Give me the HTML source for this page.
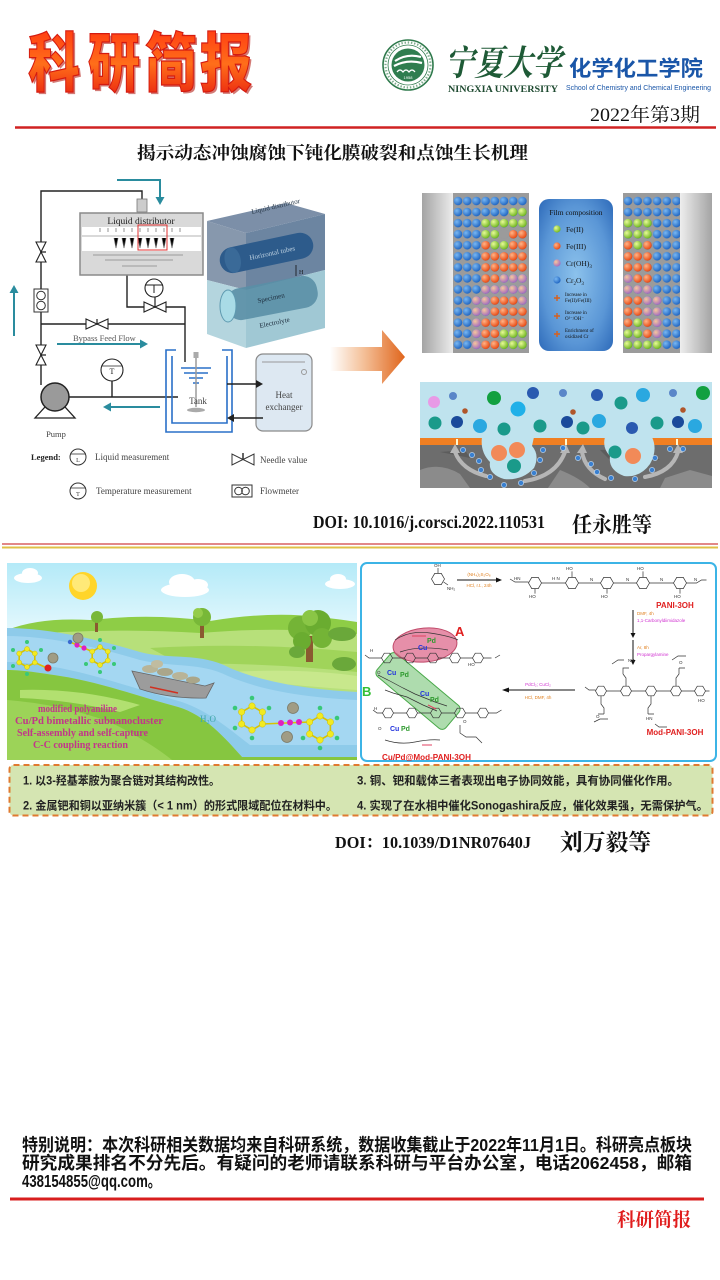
<!DOCTYPE html>
<html><head><meta charset="utf-8">
<style>
html,body{margin:0;padding:0;background:#fff;}
body{width:720px;height:1280px;overflow:hidden;position:relative;}
svg{position:absolute;left:0;top:0;}
.s{font-family:"Liberation Sans","Noto Sans CJK SC",sans-serif;}
.r{font-family:"Liberation Serif","Noto Serif CJK SC",serif;}
.k{font-family:"Noto Serif CJK SC","Liberation Serif",serif;}
</style></head><body>
<svg width="720" height="1280" viewBox="0 0 720 1280" xmlns="http://www.w3.org/2000/svg">
<defs>
<linearGradient id="rg" x1="0" y1="0" x2="0" y2="1"><stop offset="0" stop-color="#ff3c12"/><stop offset=".5" stop-color="#ff6e1a"/><stop offset="1" stop-color="#e8200f"/></linearGradient>
<linearGradient id="oa" x1="0" y1="0" x2="1" y2="0"><stop offset="0" stop-color="#fff"/><stop offset=".45" stop-color="#f4c098"/><stop offset="1" stop-color="#e0651c"/></linearGradient>
<linearGradient id="glL" x1="0" y1="0" x2="1" y2="0"><stop offset="0" stop-color="#a4a4a4"/><stop offset="1" stop-color="#eeeeee"/></linearGradient>
<linearGradient id="glR" x1="0" y1="0" x2="1" y2="0"><stop offset="0" stop-color="#eeeeee"/><stop offset="1" stop-color="#a4a4a4"/></linearGradient>
<radialGradient id="bb" cx=".5" cy=".5" r=".75"><stop offset="0" stop-color="#8cc2ec"/><stop offset=".6" stop-color="#5a96d6"/><stop offset="1" stop-color="#2562b4"/></radialGradient>
<radialGradient id="gB" cx=".35" cy=".35" r=".7"><stop offset="0" stop-color="#7ab8f2"/><stop offset="1" stop-color="#1c62c0"/></radialGradient>
<radialGradient id="gG" cx=".35" cy=".35" r=".7"><stop offset="0" stop-color="#e8fa98"/><stop offset="1" stop-color="#6cb41c"/></radialGradient>
<radialGradient id="gO" cx=".35" cy=".35" r=".7"><stop offset="0" stop-color="#ffb488"/><stop offset="1" stop-color="#e8460e"/></radialGradient>
<radialGradient id="gP" cx=".35" cy=".35" r=".7"><stop offset="0" stop-color="#f6c89c"/><stop offset="1" stop-color="#a068c0"/></radialGradient>
<linearGradient id="sky" x1="0" y1="0" x2="0" y2="1"><stop offset="0" stop-color="#b4eaf8"/><stop offset=".35" stop-color="#e4f8fd"/><stop offset="1" stop-color="#e4f8fd"/></linearGradient>
<pattern id="pL" x="453.4" y="195.5" width="9.2" height="11.05" patternUnits="userSpaceOnUse"><circle cx="4.6" cy="5.5" r="4.3" fill="url(#gB)"/></pattern>
<pattern id="pR" x="623.15" y="195.5" width="9.7" height="11.05" patternUnits="userSpaceOnUse"><circle cx="4.85" cy="5.5" r="4.3" fill="url(#gB)"/></pattern>
<circle id="dG" r="4.3" fill="url(#gG)"/>
<circle id="dO" r="4.3" fill="url(#gO)"/>
<circle id="dP" r="4.3" fill="url(#gP)"/>
<polygon id="hx" points="6.5,0 3.25,5.6 -3.25,5.6 -6.5,0 -3.25,-5.6 3.25,-5.6" fill="none" stroke="#333" stroke-width=".7"/>
<polygon id="hs" points="5.5,0 2.75,4.8 -2.75,4.8 -5.5,0 -2.75,-4.8 2.75,-4.8" fill="none" stroke="#333" stroke-width=".7"/>
</defs>

<!-- ===== HEADER ===== -->
<g class="s" font-size="64" font-weight="900">
<text x="30" y="88" fill="#b01008" opacity=".55" textLength="52" lengthAdjust="spacingAndGlyphs">科</text>
<text x="90" y="88" fill="#b01008" opacity=".55" textLength="52" lengthAdjust="spacingAndGlyphs">研</text>
<text x="147" y="88" fill="#b01008" opacity=".55" textLength="52" lengthAdjust="spacingAndGlyphs">简</text>
<text x="202" y="88" fill="#b01008" opacity=".55" textLength="52" lengthAdjust="spacingAndGlyphs">报</text>
<text x="28" y="86" fill="url(#rg)" stroke="#d41a10" stroke-width="1.2" textLength="52" lengthAdjust="spacingAndGlyphs">科</text>
<text x="88" y="86" fill="url(#rg)" stroke="#d41a10" stroke-width="1.2" textLength="52" lengthAdjust="spacingAndGlyphs">研</text>
<text x="145" y="86" fill="url(#rg)" stroke="#d41a10" stroke-width="1.2" textLength="52" lengthAdjust="spacingAndGlyphs">简</text>
<text x="200" y="86" fill="url(#rg)" stroke="#d41a10" stroke-width="1.2" textLength="52" lengthAdjust="spacingAndGlyphs">报</text>
</g>

<!-- logo -->
<circle cx="408" cy="65" r="25" fill="#fff" stroke="#2f7a4c" stroke-width="1.6"/>
<circle cx="408" cy="65" r="22.5" fill="none" stroke="#4a8a60" stroke-width="2.2" stroke-dasharray="1.4 1.8" opacity=".7"/>
<circle cx="408" cy="65" r="20" fill="none" stroke="#2f7a4c" stroke-width=".8"/>
<circle cx="408" cy="65" r="16.5" fill="#2f7d4f"/>
<path d="M395,61 Q407,53 421,57 M394,66 Q407,59 422,63" stroke="#fff" stroke-width="2.2" fill="none"/>
<path d="M397,72 q3,-4 6,0 q3,-4 6,0 q3,-4 6,0" stroke="#fff" stroke-width="1.2" fill="none"/>
<text x="408" y="79" font-size="4" fill="#fff" text-anchor="middle" class="s">1958</text>

<text x="445" y="75" class="k" font-size="35" font-weight="bold" fill="#1e5a36" textLength="117" lengthAdjust="spacingAndGlyphs" font-style="italic">宁夏大学</text>
<text x="448" y="92" class="r" font-size="9.5" font-weight="bold" fill="#1e4a30" textLength="110" lengthAdjust="spacingAndGlyphs">NINGXIA UNIVERSITY</text>
<text x="569" y="76" class="s" font-size="21.5" font-weight="bold" fill="#1a56a8" textLength="134" lengthAdjust="spacingAndGlyphs">化学化工学院</text>
<text x="566" y="90" class="s" font-size="7" fill="#1a56a8" textLength="145" lengthAdjust="spacingAndGlyphs">School of Chemistry and Chemical Engineering</text>
<text x="590" y="121" class="r" font-size="19" fill="#111" textLength="110" lengthAdjust="spacingAndGlyphs">2022年第3期</text>
<line x1="15" y1="127.5" x2="716" y2="127.5" stroke="#d02222" stroke-width="2.5"/>

<text x="137" y="159" class="k" font-size="17.5" font-weight="bold" fill="#111" textLength="391" lengthAdjust="spacingAndGlyphs">揭示动态冲蚀腐蚀下钝化膜破裂和点蚀生长机理</text>

<!-- ===== LEFT PROCESS DIAGRAM ===== -->
<!-- teal arrows -->
<g stroke="#2a8c9e" stroke-width="2" fill="none">
<path d="M117,180 H160 V198"/>
<path d="M14,336 V292"/>
<path d="M57,344 H141"/>
<path d="M160,407 H110"/>
</g>
<g fill="#2a8c9e">
<polygon points="155.5,197 164.5,197 160,205"/>
<polygon points="9.5,293 18.5,293 14,285"/>
<polygon points="140,339.5 140,348.5 148,344"/>
<polygon points="111,402.5 111,411.5 103,407"/>
</g>
<!-- pipes -->
<g stroke="#222" stroke-width="1.4" fill="none">
<path d="M41,385 V191 H142 V199"/>
<path d="M41,324 H185"/>
<path d="M127,275 V307 H185 V362"/>
<path d="M69,397 H178"/>
<path d="M112,381 V397"/>
</g>
<rect x="137" y="199" width="10" height="13" fill="#ccc" stroke="#777" stroke-width=".8"/>
<!-- distributor -->
<rect x="80" y="213" width="123" height="62" fill="#d9d9d9" stroke="#8a8a8a" stroke-width="1.5"/>
<text x="141" y="224" class="r" font-size="9.5" fill="#222" text-anchor="middle">Liquid distributor</text>
<rect x="82" y="227" width="119" height="8" fill="#fff"/>
<rect x="82" y="237" width="119" height="14" fill="#fff"/>
<g stroke="#666" stroke-width=".7">
<path d="M100,228 v4 M108,228 v4 M116,228 v4 M124,228 v4 M132,228 v4 M140,228 v4 M148,228 v4 M156,228 v4 M164,228 v4 M172,228 v4 M180,228 v4"/>
<path d="M114,238 l2,10 l2,-10 M122,238 l2,10 l2,-10 M130,238 l2,10 l2,-10 M138,238 l2,10 l2,-10 M146,238 l2,10 l2,-10 M154,238 l2,10 l2,-10 M162,238 l2,10 l2,-10 M170,238 l2,10 l2,-10"/>
<path d="M93,255 H183 M105,260 H173 M122,266 H157" stroke="#888"/>
</g>
<rect x="138" y="225" width="29" height="25" fill="none" stroke="#e03030" stroke-width="1"/>
<!-- valves -->
<g fill="#fff" stroke="#222" stroke-width="1.1">
<polygon points="36,242 46,242 41,252"/><polygon points="36,262 46,262 41,252"/>
<polygon points="36,345 46,345 41,355"/><polygon points="36,365 46,365 41,355"/>
<polygon points="86,319 86,329 97,324"/><polygon points="108,319 108,329 97,324"/>
<polygon points="144,302 144,312 155,307"/><polygon points="166,302 166,312 155,307"/>
</g>
<g stroke="#222" stroke-width="1.2"><path d="M41,252 h5 M41,355 h5 M97,324 v-5 M155,307 v-10"/></g>
<!-- gauge above valve -->
<circle cx="154" cy="288" r="9" fill="#fff" stroke="#222" stroke-width="1.1"/>
<path d="M145.5,285 H162.5 M154,285 V293" stroke="#222" stroke-width="1"/>
<!-- flowmeter -->
<rect x="34" y="289" width="14" height="23" fill="#fff" stroke="#333" stroke-width="1"/>
<circle cx="41" cy="295.5" r="4.3" fill="none" stroke="#333" stroke-width="1"/>
<circle cx="41" cy="305.5" r="4.3" fill="none" stroke="#333" stroke-width="1"/>
<text x="73" y="341" class="r" font-size="8.5" fill="#555">Bypass Feed Flow</text>
<!-- temperature gauge -->
<circle cx="112" cy="370" r="11" fill="#fff" stroke="#222" stroke-width="1.1"/>
<text x="112" y="374" class="r" font-size="8" text-anchor="middle" fill="#222">T</text>
<path d="M102,366 H122" stroke="#222" stroke-width=".8"/>
<!-- pump -->
<polygon points="55,396 35,418 75,418" fill="#fff" stroke="#222" stroke-width="1.3"/>
<circle cx="55" cy="397" r="14" fill="#9a9a9a" stroke="#222" stroke-width="1.5"/>
<text x="56" y="437" class="r" font-size="8.5" fill="#444" text-anchor="middle">Pump</text>
<!-- tank -->
<g stroke="#2a70c8" stroke-width="1.6" fill="none">
<path d="M176,350 H166 V432 H232 V350 H222"/>
<path d="M172,356 V423 H227 V356"/>
<path d="M181,368 H211 M184,373 H208 M189,378 H203 M193,383 H199"/>
</g>
<path d="M196,354 V407" stroke="#9a9a9a" stroke-width="1.5"/>
<rect x="193.5" y="352" width="5" height="6" fill="#aaa"/>
<ellipse cx="196" cy="410" rx="9" ry="2.2" fill="#aaa"/>
<text x="198" y="404" class="r" font-size="9" fill="#444" text-anchor="middle">Tank</text>
<!-- heat exchanger -->
<rect x="256" y="354" width="56" height="77" rx="7" fill="#dde8f2" stroke="#8a8a8a" stroke-width="1.2"/>
<path d="M262,362 H305" stroke="#999" stroke-width="1"/>
<circle cx="304" cy="372" r="2.5" fill="none" stroke="#999"/>
<text x="284" y="398" class="r" font-size="9" fill="#444" text-anchor="middle">Heat</text>
<text x="284" y="410" class="r" font-size="9" fill="#444" text-anchor="middle">exchanger</text>
<path d="M227,384 H257 M263,418 H233" stroke="#222" stroke-width="1.4"/>
<polygon points="256,380 256,388 263,384" fill="#222"/>
<polygon points="234,414 234,422 227,418" fill="#222"/>
<!-- 3D block -->
<polygon points="207,221 286,203 325,214 246,233" fill="#7c8fa8"/>
<polygon points="207,221 246,233 246,290 207,280" fill="#8798ad"/>
<polygon points="207,280 246,290 246,348 207,334" fill="#b4d5de"/>
<polygon points="246,233 325,214 325,270 246,290" fill="#6c85a1"/>
<polygon points="246,290 325,270 325,328 246,348" fill="#a0c8d4"/>
<g transform="rotate(-12 266 253)"><rect x="219" y="240" width="95" height="26" rx="13" fill="#2d5b8b"/><ellipse cx="232" cy="253" rx="8" ry="13" fill="#3a6a98"/></g>
<g transform="rotate(-11 272 298)"><rect x="226" y="282" width="92" height="32" rx="14" fill="#5a8fa6" opacity=".9"/></g>
<ellipse cx="228" cy="306" rx="8" ry="16" fill="#a9dbe6" stroke="#5f9ab0" stroke-width="1"/>
<text x="252" y="214" class="r" font-size="7" fill="#2a3a4a" transform="rotate(-13 252 214)">Liquid distributor</text>
<text x="250" y="260" class="r" font-size="7" fill="#bcd0e0" transform="rotate(-12 250 260)">Horizontal tubes</text>
<text x="258" y="303" class="r" font-size="7" fill="#1e2e3e" transform="rotate(-12 258 303)">Specimen</text>
<text x="260" y="328" class="r" font-size="7" fill="#1e2e3e" transform="rotate(-12 260 328)">Electrolyte</text>
<path d="M296,265 V276" stroke="#111" stroke-width=".8"/>
<text x="299" y="274" class="r" font-size="6" fill="#111">H</text>
<!-- legend -->
<text x="31" y="460" class="r" font-size="8.5" font-weight="bold" fill="#222">Legend:</text>
<circle cx="78" cy="457" r="8" fill="#fff" stroke="#333" stroke-width="1"/>
<path d="M70,454 H86" stroke="#333" stroke-width=".8"/>
<text x="78" y="462" class="r" font-size="6" text-anchor="middle" fill="#333">L</text>
<text x="95" y="460" class="r" font-size="9" fill="#444">Liquid measurement</text>
<polygon points="232,454 232,465 243,459.5" fill="#fff" stroke="#333"/>
<polygon points="254,454 254,465 243,459.5" fill="#fff" stroke="#333"/>
<path d="M243,459.5 V453" stroke="#333" stroke-width="1.5"/>
<text x="260" y="463" class="r" font-size="9" fill="#444">Needle value</text>
<circle cx="78" cy="491" r="8" fill="#fff" stroke="#333" stroke-width="1"/>
<path d="M70,488 H86" stroke="#333" stroke-width=".8"/>
<text x="78" y="496" class="r" font-size="6" text-anchor="middle" fill="#333">T</text>
<text x="96" y="494" class="r" font-size="9" fill="#444">Temperature measurement</text>
<rect x="232" y="485" width="20" height="12" fill="#fff" stroke="#333"/>
<circle cx="238.5" cy="491" r="3.8" fill="none" stroke="#333"/>
<circle cx="245.5" cy="491" r="3.8" fill="none" stroke="#333"/>
<text x="260" y="494" class="r" font-size="9" fill="#444">Flowmeter</text>

<!-- orange arrow -->
<polygon points="330,347 382,347 382,330 405,357 382,384 382,371 330,371" fill="url(#oa)"/>

<!-- ===== FILM COMPOSITION PANEL ===== -->
<rect x="422" y="193" width="32" height="160" fill="url(#glL)"/>
<rect x="453" y="193" width="76" height="160" fill="#9b9b9b"/>
<rect x="453.4" y="195.5" width="73.6" height="154.7" fill="url(#pL)"/>
<rect x="623" y="193" width="58" height="160" fill="#9b9b9b"/>
<rect x="623.15" y="195.5" width="58.2" height="154.7" fill="url(#pR)"/>
<rect x="680" y="193" width="32" height="160" fill="url(#glR)"/>
<!-- left overlays -->
<use href="#dG" x="513.2" y="212"/><use href="#dG" x="522.4" y="212"/>
<use href="#dG" x="485.6" y="223.1"/><use href="#dG" x="494.8" y="223.1"/><use href="#dG" x="504" y="223.1"/><use href="#dG" x="513.2" y="223.1"/><use href="#dG" x="522.4" y="223.1"/>
<use href="#dG" x="485.6" y="234.2"/><use href="#dG" x="494.8" y="234.2"/><circle cx="504" cy="234.2" r="4.7" fill="#9b9b9b"/><use href="#dO" x="513.2" y="234.2"/><use href="#dO" x="522.4" y="234.2"/>
<use href="#dO" x="485.6" y="245.2"/><use href="#dG" x="494.8" y="245.2"/><use href="#dG" x="504" y="245.2"/><use href="#dO" x="513.2" y="245.2"/><use href="#dO" x="522.4" y="245.2"/>
<use href="#dO" x="485.6" y="256.3"/><use href="#dO" x="494.8" y="256.3"/><use href="#dO" x="504" y="256.3"/><use href="#dO" x="513.2" y="256.3"/><use href="#dO" x="522.4" y="256.3"/>
<use href="#dO" x="485.6" y="267.3"/><use href="#dO" x="494.8" y="267.3"/><use href="#dO" x="504" y="267.3"/><use href="#dO" x="513.2" y="267.3"/><use href="#dO" x="522.4" y="267.3"/>
<use href="#dO" x="485.6" y="278.4"/><use href="#dO" x="494.8" y="278.4"/><use href="#dP" x="504" y="278.4"/><use href="#dP" x="513.2" y="278.4"/><use href="#dP" x="522.4" y="278.4"/>
<use href="#dP" x="485.6" y="289.4"/><use href="#dP" x="494.8" y="289.4"/><use href="#dP" x="504" y="289.4"/><use href="#dP" x="513.2" y="289.4"/><use href="#dP" x="522.4" y="289.4"/>
<use href="#dP" x="476.4" y="300.5"/><use href="#dP" x="485.6" y="300.5"/><use href="#dO" x="494.8" y="300.5"/><use href="#dO" x="504" y="300.5"/><use href="#dO" x="513.2" y="300.5"/><use href="#dP" x="522.4" y="300.5"/>
<use href="#dP" x="476.4" y="311.5"/><use href="#dP" x="485.6" y="311.5"/><use href="#dO" x="494.8" y="311.5"/><use href="#dO" x="504" y="311.5"/><use href="#dO" x="513.2" y="311.5"/><use href="#dO" x="522.4" y="311.5"/>
<use href="#dP" x="476.4" y="322.6"/><use href="#dO" x="485.6" y="322.6"/><use href="#dO" x="494.8" y="322.6"/><use href="#dO" x="504" y="322.6"/><use href="#dO" x="513.2" y="322.6"/><use href="#dO" x="522.4" y="322.6"/>
<use href="#dP" x="476.4" y="333.6"/><use href="#dO" x="485.6" y="333.6"/><use href="#dO" x="494.8" y="333.6"/><use href="#dG" x="504" y="333.6"/><use href="#dG" x="513.2" y="333.6"/><use href="#dG" x="522.4" y="333.6"/>
<use href="#dP" x="476.4" y="344.7"/><use href="#dO" x="485.6" y="344.7"/><use href="#dO" x="494.8" y="344.7"/><use href="#dG" x="504" y="344.7"/><use href="#dG" x="513.2" y="344.7"/><use href="#dG" x="522.4" y="344.7"/>
<!-- right overlays -->
<use href="#dG" x="628" y="223.1"/><use href="#dG" x="637.7" y="223.1"/><use href="#dG" x="647.4" y="223.1"/>
<use href="#dG" x="628" y="234.2"/><use href="#dG" x="637.7" y="234.2"/><use href="#dG" x="647.4" y="234.2"/>
<use href="#dO" x="628" y="245.2"/><use href="#dG" x="637.7" y="245.2"/><use href="#dO" x="647.4" y="245.2"/>
<use href="#dO" x="628" y="256.3"/><use href="#dO" x="637.7" y="256.3"/><use href="#dO" x="647.4" y="256.3"/>
<use href="#dO" x="628" y="267.3"/><use href="#dO" x="637.7" y="267.3"/><use href="#dO" x="647.4" y="267.3"/>
<use href="#dP" x="628" y="278.4"/><use href="#dO" x="637.7" y="278.4"/><use href="#dO" x="647.4" y="278.4"/>
<use href="#dP" x="628" y="289.4"/><use href="#dP" x="637.7" y="289.4"/><use href="#dP" x="647.4" y="289.4"/>
<use href="#dO" x="628" y="300.5"/><use href="#dO" x="637.7" y="300.5"/><use href="#dP" x="647.4" y="300.5"/><use href="#dP" x="657.1" y="300.5"/>
<use href="#dO" x="628" y="311.5"/><use href="#dO" x="637.7" y="311.5"/><use href="#dP" x="647.4" y="311.5"/><use href="#dP" x="657.1" y="311.5"/>
<use href="#dO" x="628" y="322.6"/><use href="#dG" x="637.7" y="322.6"/><use href="#dO" x="647.4" y="322.6"/><use href="#dP" x="657.1" y="322.6"/>
<use href="#dG" x="628" y="333.6"/><use href="#dG" x="637.7" y="333.6"/><use href="#dO" x="647.4" y="333.6"/><use href="#dP" x="657.1" y="333.6"/>
<use href="#dG" x="628" y="344.7"/><use href="#dG" x="637.7" y="344.7"/><use href="#dG" x="647.4" y="344.7"/><use href="#dG" x="657.1" y="344.7"/>
<!-- legend box -->
<rect x="539" y="199" width="74" height="152" rx="10" fill="url(#bb)"/>
<text x="576" y="215" class="r" font-size="7.5" fill="#111" text-anchor="middle">Film composition</text>
<circle cx="557" cy="229" r="3.6" fill="url(#gG)"/><text x="566" y="232" class="r" font-size="7.5" fill="#111">Fe(II)</text>
<circle cx="557" cy="246" r="3.6" fill="url(#gO)"/><text x="566" y="249" class="r" font-size="7.5" fill="#111">Fe(III)</text>
<circle cx="557" cy="263" r="3.6" fill="url(#gP)"/><text x="566" y="266" class="r" font-size="7.5" fill="#111">Cr(OH)<tspan font-size="5" dy="2">3</tspan></text>
<circle cx="557" cy="280" r="3.6" fill="url(#gB)"/><text x="566" y="283" class="r" font-size="7.5" fill="#111">Cr<tspan font-size="5" dy="2">2</tspan><tspan dy="-2">O</tspan><tspan font-size="5" dy="2">3</tspan></text>
<path d="M554,298 h6 M557,295 v6 M554,316 h6 M557,313 v6 M554,334 h6 M557,331 v6" stroke="#d8601c" stroke-width="1.4"/>
<g class="r" font-size="5" fill="#111">
<text x="565" y="296">Increase in</text><text x="565" y="302">Fe(II)/Fe(III)</text>
<text x="565" y="314">Increase in</text><text x="565" y="320">O²⁻/OH⁻</text>
<text x="565" y="332">Enrichment of</text><text x="565" y="338">oxidized Cr</text>
</g>

<!-- ===== CORROSION PANEL ===== -->
<rect x="420" y="382" width="292" height="56" fill="#bfe3ee"/>
<rect x="420" y="444" width="292" height="44" fill="#6d6d6d"/>
<path d="M420,470 Q440,462 460,474 L470,488 H420Z M560,470 Q580,478 590,488 H548Z M665,478 L690,470 L712,476 V488 H660Z" fill="#8b8b8b"/>
<path d="M600,450 L640,448 L660,460 L612,462Z M440,452 L465,450 L470,458Z" fill="#5c5c5c"/>
<rect x="420" y="438" width="292" height="7" fill="#f07f22"/>
<path d="M482,437 L534,437 L532,446 Q540,455 534,468 Q522,481 504,479 Q488,474 490,462 Q480,452 482,437Z" fill="#bfe3ee"/>
<path d="M605,437 L652,437 Q658,450 650,464 Q640,478 624,476 Q608,470 610,456 Q602,448 605,437Z" fill="#bfe3ee"/>
<g fill="none" stroke="#b6b6b6" stroke-width="4" stroke-linecap="round">
<path d="M486,476 Q462,470 455,452"/><path d="M525,481 Q556,476 565,452"/>
<path d="M605,479 Q585,470 582,452"/><path d="M645,477 Q672,472 678,452"/>
</g>
<g fill="#b6b6b6"><polygon points="450,453 460,453 455,444"/><polygon points="560,453 570,453 566,444"/><polygon points="577,453 587,453 583,444"/><polygon points="673,453 683,453 678,444"/></g>
<g fill="#fff8d0"><rect x="456" y="439" width="2" height="6"/><rect x="565" y="439" width="2" height="6"/><rect x="676" y="439" width="2" height="6"/></g>
<g>
<circle cx="434" cy="402" r="6" fill="#e89ae6"/>
<circle cx="453" cy="396" r="4" fill="#5a86c8"/><circle cx="465" cy="411" r="2.8" fill="#b0562a"/>
<circle cx="435" cy="423" r="6.5" fill="#1a9a8a"/><circle cx="457" cy="422" r="6" fill="#1a4a9a"/>
<circle cx="480" cy="426" r="7" fill="#2aa8e0"/><circle cx="494" cy="398" r="7" fill="#12a040"/>
<circle cx="504" cy="429" r="6.5" fill="#1a9a8a"/><circle cx="518" cy="409" r="7.5" fill="#20b0e8"/>
<circle cx="533" cy="393" r="6" fill="#2a5ab0"/><circle cx="540" cy="426" r="6.5" fill="#1a9a8a"/>
<circle cx="563" cy="393" r="4" fill="#5a86c8"/><circle cx="573" cy="412" r="2.8" fill="#b0562a"/>
<circle cx="567" cy="422" r="6" fill="#1a4a9a"/><circle cx="583" cy="428" r="6.5" fill="#1a9a8a"/>
<circle cx="597" cy="395" r="6" fill="#2a5ab0"/><circle cx="599" cy="421" r="7" fill="#2aa8e0"/>
<circle cx="621" cy="403" r="6.5" fill="#1a9a8a"/><circle cx="643" cy="395" r="7" fill="#2aa8e0"/>
<circle cx="632" cy="428" r="6" fill="#2a5ab0"/><circle cx="657" cy="423" r="6.5" fill="#1a9a8a"/>
<circle cx="673" cy="393" r="4" fill="#5a86c8"/><circle cx="683" cy="410" r="2.8" fill="#b0562a"/>
<circle cx="678" cy="422" r="6" fill="#1a4a9a"/><circle cx="695" cy="426" r="7" fill="#2aa8e0"/>
<circle cx="703" cy="393" r="7" fill="#12a040"/>
<circle cx="499" cy="453" r="8" fill="#f28a58"/><circle cx="517" cy="450" r="8" fill="#f28a58"/>
<circle cx="514" cy="466" r="7" fill="#1a9a8a"/>
<circle cx="615" cy="452" r="6.5" fill="#1a9a8a"/><circle cx="633" cy="456" r="8" fill="#f28a58"/>
</g>
<g fill="#3a80d0" stroke="#cfe4f8" stroke-width=".6">
<circle cx="463" cy="450" r="2.6"/><circle cx="472" cy="455" r="2.6"/><circle cx="479" cy="461" r="2.6"/><circle cx="481" cy="470" r="2.6"/>
<circle cx="490" cy="477" r="2.6"/><circle cx="504" cy="485" r="2.6"/><circle cx="521" cy="483" r="2.6"/><circle cx="534" cy="473" r="2.6"/>
<circle cx="540" cy="460" r="2.6"/><circle cx="543" cy="450" r="2.6"/><circle cx="563" cy="448" r="2.6"/><circle cx="578" cy="458" r="2.6"/>
<circle cx="591" cy="464" r="2.6"/><circle cx="597" cy="472" r="2.6"/><circle cx="611" cy="478" r="2.6"/><circle cx="635" cy="479" r="2.6"/>
<circle cx="652" cy="470" r="2.6"/><circle cx="655" cy="458" r="2.6"/><circle cx="670" cy="449" r="2.6"/><circle cx="683" cy="449" r="2.6"/>
</g>

<!-- DOI 1 -->
<text x="313" y="528" class="r" font-size="18" font-weight="bold" fill="#111" textLength="232" lengthAdjust="spacingAndGlyphs">DOI:  10.1016/j.corsci.2022.110531</text>
<text x="572" y="532" class="k" font-size="21" font-weight="bold" fill="#111" textLength="80" lengthAdjust="spacingAndGlyphs">任永胜等</text>

<!-- separator -->
<line x1="2" y1="544" x2="718" y2="544" stroke="#d86060" stroke-width="1.5"/>
<line x1="2" y1="547.5" x2="718" y2="547.5" stroke="#e0c048" stroke-width="2"/>

<!-- ===== SCENE ===== -->
<rect x="7" y="563" width="350" height="197" fill="url(#sky)"/>
<g fill="#fff">
<ellipse cx="28" cy="578" rx="14" ry="5"/><ellipse cx="30" cy="573" rx="8" ry="5"/>
<ellipse cx="185" cy="590" rx="24" ry="7"/><ellipse cx="182" cy="582" rx="13" ry="8"/><ellipse cx="198" cy="585" rx="10" ry="6"/>
<ellipse cx="340" cy="584" rx="15" ry="5"/><ellipse cx="338" cy="579" rx="8" ry="5"/>
</g>
<circle cx="83" cy="586" r="14" fill="#ffd52a"/><circle cx="81" cy="583" r="9" fill="#ffe978"/>
<path d="M7,630 Q40,617 90,620 Q150,613 210,621 Q270,611 320,617 Q345,620 357,622 V760 H7Z" fill="#8ecd46"/>
<path d="M7,636 Q100,627 200,633 Q280,626 357,634 V760 H7Z" fill="#b7e07a"/>
<path d="M150,648 Q250,642 357,652 V672 Q260,662 180,664Z" fill="#a0d45a"/>
<path d="M230,672 Q300,668 357,676 V690 Q300,686 240,680Z" fill="#c8e88c"/>
<path d="M7,628 C50,628 100,640 140,652 C170,660 200,652 230,668 C270,685 320,690 357,692 V757 H242 C225,738 205,715 178,707 C140,697 100,682 60,676 C35,672 20,670 7,670 Z" fill="#8ecbea"/>
<path d="M7,636 C50,636 100,648 140,660 C175,668 200,662 228,676 C270,694 320,698 357,700 V745 H250 C228,728 205,708 175,700 C140,690 100,676 60,668 C35,664 20,662 7,662 Z" fill="#a4d7f2"/>
<path d="M7,670 C20,670 35,672 60,676 C100,682 140,697 178,707 C205,715 225,738 242,757 H357 V760 H7 Z" fill="#86c640"/>
<path d="M7,700 Q60,704 110,722 Q150,742 172,760 H7Z" fill="#9cd358"/>
<path d="M20,690 Q80,688 140,705 L120,712 Q70,700 20,698Z" fill="#b2e070"/>
<!-- trees -->
<rect x="95" y="620" width="3" height="12" fill="#8a5a30"/><circle cx="97" cy="617" r="6" fill="#79b838"/>
<rect x="200" y="622" width="4" height="16" fill="#8a5a30"/><circle cx="202" cy="617" r="9" fill="#78b838"/><circle cx="198" cy="613" r="5" fill="#94cc4a"/>
<rect x="306" y="636" width="7" height="26" fill="#8a5a30"/>
<circle cx="300" cy="628" r="12" fill="#74b436"/><circle cx="318" cy="623" r="13" fill="#6aac30"/><circle cx="322" cy="638" r="10" fill="#74b436"/><circle cx="302" cy="641" r="9" fill="#6aac30"/><circle cx="310" cy="618" r="8" fill="#8ac646"/>
<ellipse cx="342" cy="634" rx="14" ry="7" fill="#6aa83a"/><ellipse cx="344" cy="664" rx="12" ry="7" fill="#6aa83a"/><ellipse cx="297" cy="652" rx="8" ry="6" fill="#6aa83a"/>
<!-- boat -->
<path d="M132,671 L205,686 L214,683 L206,698 Q170,699 140,689 Z" fill="#9c9c9c" stroke="#666" stroke-width=".8"/>
<ellipse cx="150" cy="669" rx="8" ry="4" fill="#b8b498"/><ellipse cx="165" cy="672" rx="8" ry="4" fill="#aaa68a"/><ellipse cx="180" cy="676" rx="8" ry="4" fill="#b8b498"/><ellipse cx="157" cy="664" rx="6" ry="4" fill="#c0bca0"/><ellipse cx="193" cy="680" rx="7" ry="3.5" fill="#aaa68a"/>
<path d="M150,687 L178,693" stroke="#d03020" stroke-width="1.5"/>
<!-- molecules -->
<g stroke="#d8c400" stroke-width="1.6" fill="none">
<polygon points="27,649 34.8,653.5 34.8,662.5 27,667 19.2,662.5 19.2,653.5"/>
<polygon points="100,647 107.8,651.5 107.8,660.5 100,665 92.2,660.5 92.2,651.5"/>
<polygon points="252,706 262.4,712 262.4,724 252,730 241.6,724 241.6,712"/>
<polygon points="320,716 330.4,722 330.4,734 320,740 309.6,734 309.6,722"/>
<path d="M34.8,662.5 L47,668 M92.2,651.5 L70,642 M262.4,724 L309.6,722"/>
</g>
<g fill="#f2ea20" stroke="#c0b000" stroke-width=".4">
<circle cx="27" cy="649" r="2.5"/><circle cx="34.8" cy="653.5" r="2.5"/><circle cx="34.8" cy="662.5" r="2.5"/><circle cx="27" cy="667" r="2.5"/><circle cx="19.2" cy="662.5" r="2.5"/><circle cx="19.2" cy="653.5" r="2.5"/>
<circle cx="100" cy="647" r="2.5"/><circle cx="107.8" cy="651.5" r="2.5"/><circle cx="107.8" cy="660.5" r="2.5"/><circle cx="100" cy="665" r="2.5"/><circle cx="92.2" cy="660.5" r="2.5"/><circle cx="92.2" cy="651.5" r="2.5"/>
<circle cx="252" cy="706" r="3.2"/><circle cx="262.4" cy="712" r="3.2"/><circle cx="262.4" cy="724" r="3.2"/><circle cx="252" cy="730" r="3.2"/><circle cx="241.6" cy="724" r="3.2"/><circle cx="241.6" cy="712" r="3.2"/>
<circle cx="320" cy="716" r="3.2"/><circle cx="330.4" cy="722" r="3.2"/><circle cx="330.4" cy="734" r="3.2"/><circle cx="320" cy="740" r="3.2"/><circle cx="309.6" cy="734" r="3.2"/><circle cx="309.6" cy="722" r="3.2"/>
</g>
<g fill="#38c878">
<circle cx="27" cy="642" r="2"/><circle cx="41" cy="650" r="2"/><circle cx="27" cy="674" r="2"/><circle cx="13" cy="666" r="2"/><circle cx="13" cy="650" r="2"/>
<circle cx="100" cy="640" r="2"/><circle cx="114" cy="648" r="2"/><circle cx="114" cy="664" r="2"/><circle cx="100" cy="672" r="2"/><circle cx="86" cy="664" r="2"/>
<circle cx="252" cy="698" r="2.3"/><circle cx="269" cy="708" r="2.3"/><circle cx="252" cy="738" r="2.3"/><circle cx="235" cy="728" r="2.3"/><circle cx="235" cy="708" r="2.3"/>
<circle cx="320" cy="708" r="2.3"/><circle cx="337" cy="718" r="2.3"/><circle cx="337" cy="738" r="2.3"/><circle cx="320" cy="748" r="2.3"/><circle cx="303" cy="738" r="2.3"/>
</g>
<circle cx="48" cy="668" r="3.5" fill="#e02020"/>
<g fill="#e020c0"><circle cx="84" cy="648" r="2.6"/><circle cx="77" cy="645" r="2.6"/><circle cx="281" cy="723" r="3"/><circle cx="290" cy="722.5" r="3"/><circle cx="299" cy="722" r="3"/></g>
<circle cx="70" cy="642" r="2.2" fill="#3a6ad0"/>
<g fill="#a09c84" stroke="#7c7a66" stroke-width=".8"><circle cx="53" cy="658" r="5"/><circle cx="78" cy="638" r="5"/><circle cx="293" cy="708" r="5.5"/><circle cx="287" cy="737" r="5.5"/></g>
<text x="200" y="722" class="r" font-size="9" fill="#40a8a8">H<tspan font-size="6" dy="2">2</tspan><tspan dy="-2">O</tspan></text>
<g class="r" font-weight="bold" fill="#c2368a" font-size="10">
<text x="38" y="712" textLength="79" lengthAdjust="spacingAndGlyphs">modified polyaniline</text>
<text x="15" y="724" textLength="148" lengthAdjust="spacingAndGlyphs">Cu/Pd bimetallic subnanocluster</text>
<text x="17" y="736" textLength="131" lengthAdjust="spacingAndGlyphs">Self-assembly and self-capture</text>
<text x="33" y="748" textLength="95" lengthAdjust="spacingAndGlyphs">C-C coupling reaction</text>
</g>

<!-- ===== CHEMISTRY BOX ===== -->
<rect x="361" y="563" width="355" height="198" rx="6" fill="#fff" stroke="#3cb4e6" stroke-width="2"/>
<!-- reagent -->
<use href="#hx" x="438" y="579"/>
<path d="M438,573.4 V568 M443.6,582 L448,585" stroke="#333" stroke-width=".7"/>
<text x="434" y="567" class="s" font-size="4.5" fill="#333">OH</text>
<text x="447" y="590" class="s" font-size="4.5" fill="#333">NH₂</text>
<path d="M457,580 H497" stroke="#111" stroke-width="1"/><polygon points="496,577.5 496,582.5 502,580" fill="#111"/>
<text x="479" y="576" class="s" font-size="4.5" fill="#e08020" text-anchor="middle">(NH₄)₂S₂O₈</text>
<text x="479" y="587" class="s" font-size="4.5" fill="#e08020" text-anchor="middle">HCl, r.t., 24h</text>
<!-- PANI chain -->
<use href="#hx" x="535" y="583"/><use href="#hx" x="572" y="583"/><use href="#hx" x="607" y="583"/><use href="#hx" x="643" y="583"/><use href="#hx" x="680" y="583"/>
<path d="M510,579 l5,3 h13.5 M541.5,583 h24 M578.5,583 h22 M613.5,583 h23 M649.5,583 h24 M686.5,583 h10 l5,-3 h5 M572,577.4 v-6 M643,577.4 v-6 M535,588.6 v5 M607,588.6 v5 M680,588.6 v5" stroke="#333" stroke-width=".7" fill="none"/>
<g class="s" font-size="4.5" fill="#333">
<text x="514" y="580">HN</text><text x="552" y="580">H N</text><text x="590" y="581">N</text><text x="626" y="581">N</text><text x="660" y="581">N</text><text x="694" y="581">N</text>
<text x="566" y="570">HO</text><text x="637" y="570">HO</text><text x="529" y="598">HO</text><text x="601" y="598">HO</text><text x="674" y="598">HO</text>
</g>
<text x="675" y="608" class="s" font-size="8" font-weight="bold" fill="#e02020" text-anchor="middle">PANI-3OH</text>
<!-- vertical arrows -->
<path d="M633,610 V634 M633,640 V660" stroke="#111" stroke-width="1"/>
<polygon points="630.5,633 635.5,633 633,638" fill="#111"/><polygon points="630.5,660 635.5,660 633,665" fill="#111"/>
<g class="s" font-size="4.5">
<text x="637" y="615" fill="#e08020">DMF, 4h</text><text x="637" y="622" fill="#d030d0">1,1-Carbonyldiimidazole</text>
<text x="637" y="649" fill="#e08020">Ar, 8h</text><text x="637" y="656" fill="#d030d0">Propargylamine</text>
</g>
<!-- Mod-PANI -->
<use href="#hs" x="601" y="691"/><use href="#hs" x="626" y="691"/><use href="#hs" x="651" y="691"/><use href="#hs" x="676" y="691"/><use href="#hs" x="700" y="691"/>
<path d="M585,687 l4,3 h6.5 M606.5,691 h14 M631.5,691 h14 M656.5,691 h14 M681.5,691 h13 M705.5,691 h4 M626,686 v-8 l-3,-4 M623,674 v-6 h6 M612,664 l6,-4 h6 M676,686 v-8 l3,-4 v-6 M679,668 h6 M672,660 l6,-4 h8 M601,696 v8 l3,4 v6 M604,714 h-6 M594,722 l6,-3 h8 M651,696 v8 l-3,4 v6 M648,714 h6 M655,724 l4,3 h8" stroke="#333" stroke-width=".7" fill="none"/>
<g class="s" font-size="4.5" fill="#333"><text x="628" y="662">NH</text><text x="679" y="664">O</text><text x="596" y="718">O</text><text x="646" y="720">HN</text><text x="698" y="702">HO</text></g>
<text x="675" y="735" class="s" font-size="8" font-weight="bold" fill="#e02020" text-anchor="middle">Mod-PANI-3OH</text>
<!-- left arrow -->
<path d="M575,690 H508" stroke="#111" stroke-width="1"/><polygon points="509,687.5 509,692.5 502,690" fill="#111"/>
<text x="538" y="686" class="s" font-size="4.5" fill="#d030d0" text-anchor="middle">PdCl₂; CuCl₂</text>
<text x="538" y="699" class="s" font-size="4.5" fill="#e08020" text-anchor="middle">HCl, DMF, 4h</text>
<!-- product -->
<g transform="rotate(40 418 691)"><rect x="373" y="676" width="90" height="30" rx="5" fill="#78c478" fill-opacity=".6" stroke="#48a848" stroke-width="1"/></g>
<ellipse cx="425" cy="645" rx="32" ry="17" fill="#dd6a8c" fill-opacity=".75" stroke="#c04a6a" stroke-width="1" transform="rotate(-5 425 645)"/>
<use href="#hs" x="387" y="658"/><use href="#hs" x="410" y="658"/><use href="#hs" x="433" y="658"/><use href="#hs" x="455" y="658"/><use href="#hs" x="478" y="658"/>
<use href="#hs" x="388" y="713"/><use href="#hs" x="412" y="713"/><use href="#hs" x="436" y="713"/><use href="#hs" x="460" y="713"/><use href="#hs" x="483" y="713"/>
<path d="M365,655 l4,3 h12.5 M392.5,658 h12 M415.5,658 h12 M438.5,658 h11 M460.5,658 h12 M483.5,658 h8 M495,658 l5,-3 M373,710 l4,3 h5.5 M393.5,713 h13 M417.5,713 h13 M441.5,713 h13 M465.5,713 h12 M488.5,713 h8 l5,-3 M395,640 Q410,630 430,633 T458,640 M400,652 Q420,645 448,650 M378,675 l10,5 l15,8 l12,6 l20,8 l12,4 M385,690 l8,3 l14,4 l16,8 l14,6 M385,740 Q400,745 415,742 T440,740 M460,725 v8 l6,4 h10 l6,6" stroke="#333" stroke-width=".7" fill="none"/>
<path d="M412,636 h14 M422,745 h10 M428,705 l8,4" stroke="#e04060" stroke-width="1"/>
<g class="s" font-weight="bold" font-size="7">
<text x="418" y="650" fill="#2233dd">Cu</text><text x="427" y="643" fill="#2e9a2e">Pd</text>
<text x="387" y="675" fill="#2233dd">Cu</text><text x="400" y="677" fill="#2e9a2e">Pd</text>
<text x="420" y="696" fill="#2233dd">Cu</text><text x="430" y="702" fill="#2e9a2e">Pd</text>
<text x="390" y="731" fill="#2233dd">Cu</text><text x="401" y="731" fill="#2e9a2e">Pd</text>
</g>
<g class="s" font-size="4.5" fill="#333"><text x="370" y="652">H</text><text x="377" y="674">O</text><text x="468" y="666">HO</text><text x="374" y="710">H</text><text x="378" y="730">O</text><text x="463" y="723">O</text></g>
<text x="455" y="636" class="s" font-size="13" font-weight="bold" fill="#e02020">A</text>
<text x="362" y="696" class="s" font-size="13" font-weight="bold" fill="#33c033">B</text>
<text x="382" y="760" class="s" font-size="8" font-weight="bold" fill="#e02020" textLength="89" lengthAdjust="spacingAndGlyphs">Cu/Pd@Mod-PANI-3OH</text>

<!-- ===== DASHED BOX ===== -->
<rect x="9.5" y="765" width="703" height="50.5" rx="4" fill="#d5e5b2" stroke="#e07a30" stroke-width="2" stroke-dasharray="6 4"/>
<g class="s" font-size="11.5" font-weight="bold" fill="#222">
<text x="23" y="784.5" textLength="197" lengthAdjust="spacingAndGlyphs">1. 以3-羟基苯胺为聚合链对其结构改性。</text>
<text x="23" y="809.5" textLength="314" lengthAdjust="spacingAndGlyphs">2. 金属钯和铜以亚纳米簇（&lt; 1 nm）的形式限域配位在材料中。</text>
<text x="357" y="784.5" textLength="322" lengthAdjust="spacingAndGlyphs">3. 铜、钯和载体三者表现出电子协同效能，具有协同催化作用。</text>
<text x="357" y="809.5" textLength="351" lengthAdjust="spacingAndGlyphs">4. 实现了在水相中催化Sonogashira反应，催化效果强，无需保护气。</text>
</g>

<!-- DOI 2 -->
<text x="335" y="848" class="r" font-size="17" font-weight="bold" fill="#111" textLength="196" lengthAdjust="spacingAndGlyphs">DOI：10.1039/D1NR07640J</text>
<text x="560" y="850" class="k" font-size="23" font-weight="bold" fill="#111" textLength="91" lengthAdjust="spacingAndGlyphs">刘万毅等</text>

<!-- ===== FOOTER ===== -->
<g class="s" font-size="17.5" font-weight="bold" fill="#111">
<text x="22" y="1151" textLength="670" lengthAdjust="spacingAndGlyphs">特别说明：本次科研相关数据均来自科研系统，数据收集截止于2022年11月1日。科研亮点板块</text>
<text x="22" y="1169" textLength="670" lengthAdjust="spacingAndGlyphs">研究成果排名不分先后。有疑问的老师请联系科研与平台办公室，电话2062458，邮箱</text>
<text x="22" y="1187" textLength="139" lengthAdjust="spacingAndGlyphs">438154855@qq.com。</text>
</g>
<line x1="10" y1="1199" x2="704" y2="1199" stroke="#d81e1e" stroke-width="3"/>
<text x="617" y="1226" class="k" font-size="19" font-weight="bold" fill="#e01c1c" textLength="74" lengthAdjust="spacingAndGlyphs">科研简报</text>
</svg>
</body></html>
